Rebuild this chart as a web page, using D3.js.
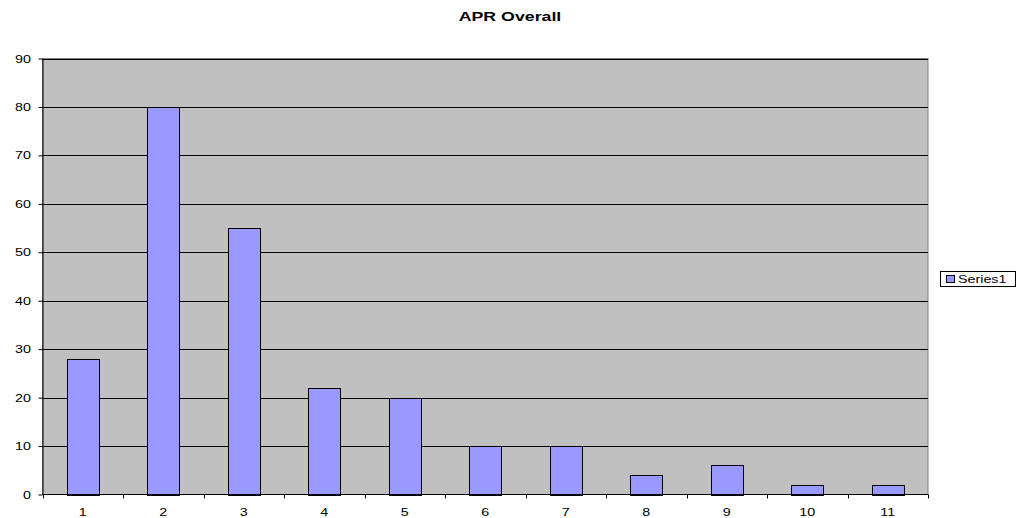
<!DOCTYPE html>
<html><head><meta charset="utf-8">
<script src="https://cdn.jsdelivr.net/npm/d3@7"></script>
<style>body{margin:0;background:#fff}svg{display:block}text{font-family:Arial,"Liberation Sans",sans-serif}</style>
</head><body>
<script>
const categories = ["1","2","3","4","5","6","7","8","9","10","11"];
const series1 = [28, 80, 55, 22, 20, 10, 10, 4, 6, 2, 2];
const yTicks = [0,10,20,30,40,50,60,70,80,90];
const title = "APR Overall";
const seriesName = "Series1";

const W = 1016, H = 518;
const L = 42.5, R = 928, T = 58.5, B = 494.5;
const SX_TITLE = 1.48, SX = 1.3;
const svg = d3.select("body").append("svg").attr("width", W).attr("height", H);

function stretchedText(g, x0, y0, sx, anchor, size, str, weight) {
  return g.append("text")
    .attr("transform", `translate(${x0},${y0}) scale(${sx},1)`)
    .attr("text-anchor", anchor).attr("font-size", size)
    .attr("font-weight", weight || "normal").attr("fill", "#000").text(str);
}

const x = d3.scaleBand().domain(categories).range([L, R]).paddingInner(0.6).paddingOuter(0.3);
const y = d3.scaleLinear().domain([0, 90]).range([B, T]);

svg.append("rect").attr("x", L).attr("y", T).attr("width", R - L).attr("height", B - T)
  .attr("fill", "#C0C0C0").attr("stroke", "#808080").attr("stroke-width", 1);

svg.append("g").selectAll("line").data(yTicks.filter(d => d > 0)).join("line")
  .attr("x1", L).attr("x2", R).attr("y1", d => Math.round(y(d)) + 0.5).attr("y2", d => Math.round(y(d)) + 0.5)
  .attr("stroke", "#000").attr("stroke-width", 1);

svg.append("g").selectAll("rect").data(series1).join("rect")
  .attr("x", (d, i) => Math.round(x(categories[i])) + 0.5)
  .attr("y", d => Math.round(y(d)) + 0.5)
  .attr("width", Math.round(x.bandwidth()))
  .attr("height", d => Math.round(B) - Math.round(y(d)))
  .attr("fill", "#9999FF").attr("stroke", "#000").attr("stroke-width", 1);

// Y axis
const yAxis = d3.axisLeft(y).tickValues(yTicks).tickSize(4).tickSizeOuter(0).tickFormat("");
const gy = svg.append("g").attr("transform", `translate(${L},0)`).call(yAxis);
gy.select(".domain").attr("stroke", "#000");
gy.selectAll(".tick line").attr("stroke", "#000");
const gyl = svg.append("g");
yTicks.forEach(t => stretchedText(gyl, 31, y(t) + 4, SX, "end", 11, String(t)));

// X axis: ticks at category boundaries
const boundaries = d3.range(categories.length + 1).map(i => L + i * x.step());
svg.append("line").attr("x1", L).attr("x2", R).attr("y1", B).attr("y2", B).attr("stroke", "#000");
svg.append("g").selectAll("line").data(boundaries).join("line")
  .attr("x1", d => Math.round(d) + 0.5).attr("x2", d => Math.round(d) + 0.5)
  .attr("y1", B).attr("y2", B + 4).attr("stroke", "#000");
const gxl = svg.append("g");
categories.forEach(c => stretchedText(gxl, x(c) + x.bandwidth() / 2, 515.5, SX, "middle", 11, c));

// Title
stretchedText(svg, 510, 20.5, SX_TITLE, "middle", 12, title, "bold");

// Legend
const lg = svg.append("g");
lg.append("rect").attr("x", 940.5).attr("y", 271.5).attr("width", 75).attr("height", 15)
  .attr("fill", "#fff").attr("stroke", "#000");
lg.append("rect").attr("x", 946.5).attr("y", 275.5).attr("width", 8).attr("height", 7)
  .attr("fill", "#9999FF").attr("stroke", "#000");
stretchedText(lg, 958, 283.3, SX, "start", 11, seriesName);
</script>
</body></html>
